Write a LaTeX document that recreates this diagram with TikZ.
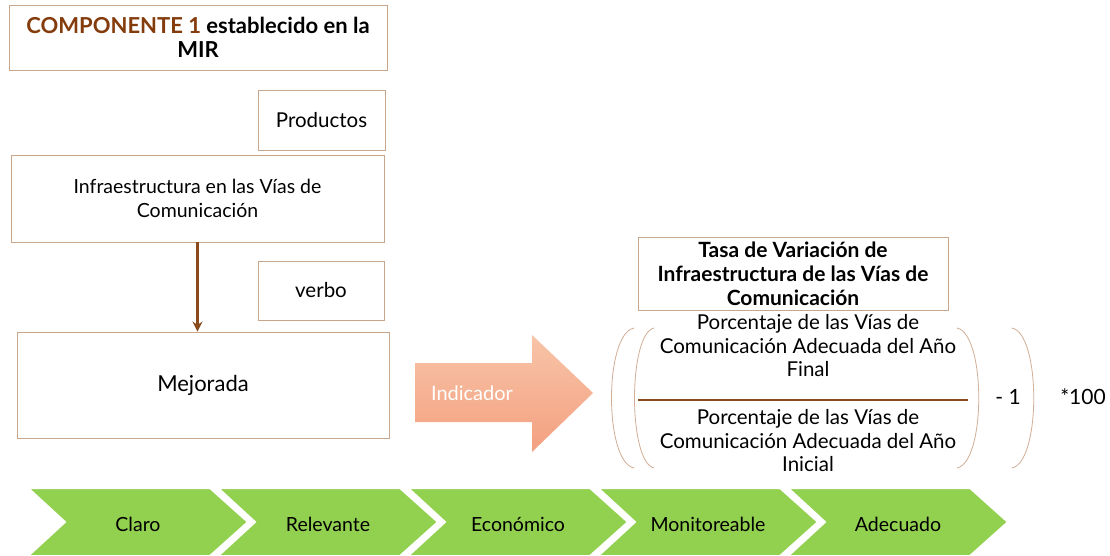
\documentclass[tikz,border=0pt]{standalone}
\usepackage{fontspec}
\setmainfont{Lato}
\usetikzlibrary{arrows.meta}
\definecolor{boxline}{HTML}{C9A58A}
\definecolor{titlebrown}{HTML}{843C0C}
\definecolor{arrowbrown}{HTML}{8B4A1C}
\definecolor{chevgreen}{HTML}{92D050}
\definecolor{salmontop}{HTML}{F8C4A8}
\definecolor{salmonbot}{HTML}{F3A07F}
\definecolor{parcol}{HTML}{D2AE96}
\tikzset{
  txtbox/.style={draw=boxline, line width=0.8pt, fill=white, align=center, inner sep=2pt,
     font=\fontsize{19.5}{24}\selectfont},
  chev/.style={fill=chevgreen, draw=white, line width=2pt},
  chevlabel/.style={font=\fontsize{19.5}{22}\selectfont},
  paren/.style={draw=parcol, line width=0.8pt},
}
\begin{document}
\begin{tikzpicture}[x=1pt,y=-1pt]
\useasboundingbox[fill=white] (0,0) rectangle (1110,556);

% left column boxes
\node[txtbox, minimum width=378pt, minimum height=65pt, font=\bfseries\fontsize{22}{24}\selectfont] (comp) at (198,37.5)
  {\textcolor{titlebrown}{COMPONENTE 1} establecido en la\\MIR};
\node[txtbox, minimum width=127pt, minimum height=60pt, font=\fontsize{20.5}{24}\selectfont] (prod) at (321.5,120) {Productos};
\node[txtbox, minimum width=373pt, minimum height=87pt] (infra) at (197.5,198.5)
  {Infraestructura en las Vías de\\Comunicación};
\node[txtbox, minimum width=126pt, minimum height=59pt, font=\fontsize{20.5}{24}\selectfont] (verbo) at (321,290.5) {verbo};
\node[txtbox, minimum width=372pt, minimum height=106pt, font=\fontsize{22}{24}\selectfont] (mej) at (203,385) {Mejorada};

\draw[arrowbrown, line width=2.4pt, -{Stealth[length=10pt,width=10pt]}] (infra.south) -- (infra.south |- mej.north);

% indicator arrow
\path[top color=salmontop, bottom color=salmonbot]
  (415,363) -- (532,363) -- (532,335) -- (593,393) -- (532,452) -- (532,422) -- (415,422) -- cycle;
\node[text=white, font=\fontsize{20}{22}\selectfont] (ind) at (472,393) {Indicador};

% formula
\node[txtbox, minimum width=310pt, minimum height=73pt, font=\bfseries\fontsize{21}{24}\selectfont] (tasa) at (793,273.5)
  {Tasa de Variación de\\Infraestructura de las Vías de\\Comunicación};
\node[align=center, font=\fontsize{20.5}{23.5}\selectfont] (num) at (808,346)
  {Porcentaje de las Vías de\\Comunicación Adecuada del Año\\Final};
\node[align=center, font=\fontsize{20.5}{23.5}\selectfont] (den) at (808,441)
  {Porcentaje de las Vías de\\Comunicación Adecuada del Año\\Inicial};
\coordinate (fl) at (638,400);
\coordinate (fr) at (968,400);
\draw[arrowbrown, line width=1.2pt] (fl) -- (fr);
% parentheses
\draw[paren] (634,328) .. controls (604,334) and (604,462) .. (634,468);
\draw[paren] (654,328) .. controls (628,334) and (628,462) .. (654,468);
\draw[paren] (957,328) .. controls (986,334) and (986,462) .. (957,468);
\draw[paren] (1012,328) .. controls (1041,334) and (1041,462) .. (1012,468);
\node[font=\fontsize{21}{22}\selectfont] (minus) at (1008,397) {- 1};
\node[font=\fontsize{21}{22}\selectfont] (times) at (1083,397) {*100};

% chevrons
\foreach \x/\lab/\nm in {28/Claro/c1, 218/Relevante/c2, 408/Económico/c3, 598/Monitoreable/c4, 788/Adecuado/c5}{
  \draw[chev] (\x,488) -- (\x+182,488) -- (\x+220,522) -- (\x+182,556) -- (\x,556) -- (\x+37,522) -- cycle;
  \node[chevlabel] (\nm) at (\x+110,524) {\lab};
}
\end{tikzpicture}
\end{document}
